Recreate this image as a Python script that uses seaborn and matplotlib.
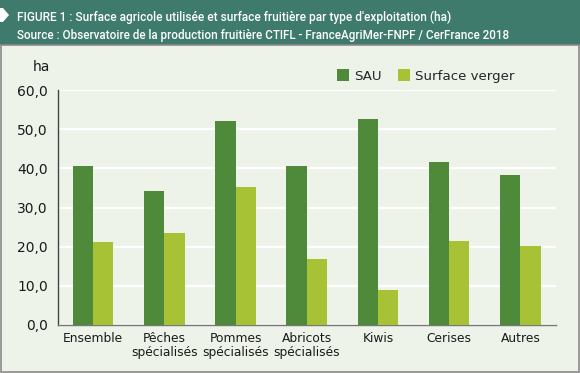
import matplotlib
matplotlib.use("Agg")
import matplotlib.pyplot as plt
import seaborn as sns
import pandas as pd
from matplotlib.patches import Rectangle, Polygon

# ---- data ----
categories = ["Ensemble", "Pêches\nspécialisés", "Pommes\nspécialisés",
              "Abricots\nspécialisés", "Kiwis", "Cerises", "Autres"]
series = ["SAU", "Surface verger"]
sau = [40.6, 34.2, 52.0, 40.5, 52.6, 41.7, 38.3]
verger = [21.1, 23.4, 35.2, 16.9, 9.0, 21.5, 20.1]
yticks = [0, 10, 20, 30, 40, 50, 60]
ytick_labels = ["0,0", "10,0", "20,0", "30,0", "40,0", "50,0", "60,0"]
title1 = "FIGURE 1 : Surface agricole utilisée et surface fruitière par type d'exploitation (ha)"
title2 = "Source : Observatoire de la production fruitière CTIFL - FranceAgriMer-FNPF / CerFrance 2018"
unit = "ha"

df = pd.DataFrame({
    "type": categories * 2,
    "serie": [series[0]] * len(sau) + [series[1]] * len(verger),
    "ha": sau + verger,
})

# ---- style ----
BG = "#eef3ea"
TEAL = "#3e7b6d"
C_SAU = "#4f8a3a"
C_VER = "#a8c235"
sns.set_style("white")
plt.rcParams["font.family"] = ["DejaVu Sans"]

W, H = 580, 373
fig = plt.figure(figsize=(W / 100, H / 100), dpi=100)
fig.patch.set_facecolor(BG)

# header band
fig.add_artist(Rectangle((0, 1 - 45 / H), 1, 45 / H, transform=fig.transFigure,
                         facecolor=TEAL, edgecolor="none", zorder=0))
# body border
fig.add_artist(Rectangle((1 / W, 1 / H), (W - 2.5) / W, (H - 46) / H,
                         transform=fig.transFigure, fill=False,
                         edgecolor="#8a8a8a", lw=1.2, zorder=1))
# white chevron
fig.add_artist(Polygon([(0, 1 - 8 / H), (3 / W, 1 - 8 / H), (9 / W, 1 - 15 / H),
                        (3 / W, 1 - 22 / H), (0, 1 - 22 / H)],
                       closed=True, transform=fig.transFigure,
                       facecolor="white", edgecolor="none", zorder=2))

narrow = ["Roboto", "DejaVu Sans"]
fig.text(17 / W, 1 - 17 / H, title1, color="white", fontsize=8.6,
         family=narrow, fontweight="medium", va="center", ha="left")
fig.text(17 / W, 1 - 35 / H, title2, color="white", fontsize=8.4,
         family=narrow, fontweight="medium", va="center", ha="left")

# ---- axes ----
left, right = 57.5, 556
y0, y60 = 325, 90
ax = fig.add_axes([left / W, (H - y0) / H, (right - left) / W, (y0 - y60) / H])
ax.set_facecolor(BG)

sns.barplot(data=df, x="type", y="ha", hue="serie", palette=[C_SAU, C_VER],
            width=0.57, saturation=1, ax=ax, legend=False, zorder=3,
            linewidth=0, edgecolor="none")

ax.set_ylim(0, 60)
ax.set_xlim(-0.5, len(categories) - 0.5)
ax.set_yticks(yticks)
ax.set_yticklabels(ytick_labels)
ax.set_xlabel("")
ax.set_ylabel("")
ax.yaxis.grid(True, color="white", lw=1.6, zorder=0)
ax.set_axisbelow(True)
for s in ["top", "right"]:
    ax.spines[s].set_visible(False)
ax.spines["left"].set_color("#444444")
ax.spines["bottom"].set_color("#777777")
ax.spines["left"].set_linewidth(1.0)
ax.spines["bottom"].set_linewidth(1.0)
ax.tick_params(axis="y", direction="out", length=3, width=1, color="#444444",
               pad=4, labelsize=10, labelcolor="#1a1a1a")
ax.tick_params(axis="x", which="major", length=0, pad=5, labelsize=8.8,
               labelcolor="#1a1a1a")
ax.set_xticks([i + 0.5 for i in range(-1, len(categories))], minor=True)
ax.tick_params(axis="x", which="minor", direction="out", length=3, width=1,
               color="#555555")
for t in ax.get_xticklabels():
    t.set_linespacing(1.1)

fig.text(41.5 / W, 1 - 67 / H, unit, fontsize=10, color="#1a1a1a",
         ha="center", va="center")

handles = [Rectangle((0, 0), 1, 1, facecolor=c, edgecolor="none")
           for c in [C_SAU, C_VER]]
fig.legend(handles, series, loc="center left",
           bbox_to_anchor=(337 / W, 1 - 76 / H), ncol=2, frameon=False,
           fontsize=9.6, handlelength=0.9, handleheight=0.9,
           handletextpad=0.4, columnspacing=1.2, borderpad=0, borderaxespad=0)

fig.savefig("out.png", dpi=100, facecolor=fig.get_facecolor())
